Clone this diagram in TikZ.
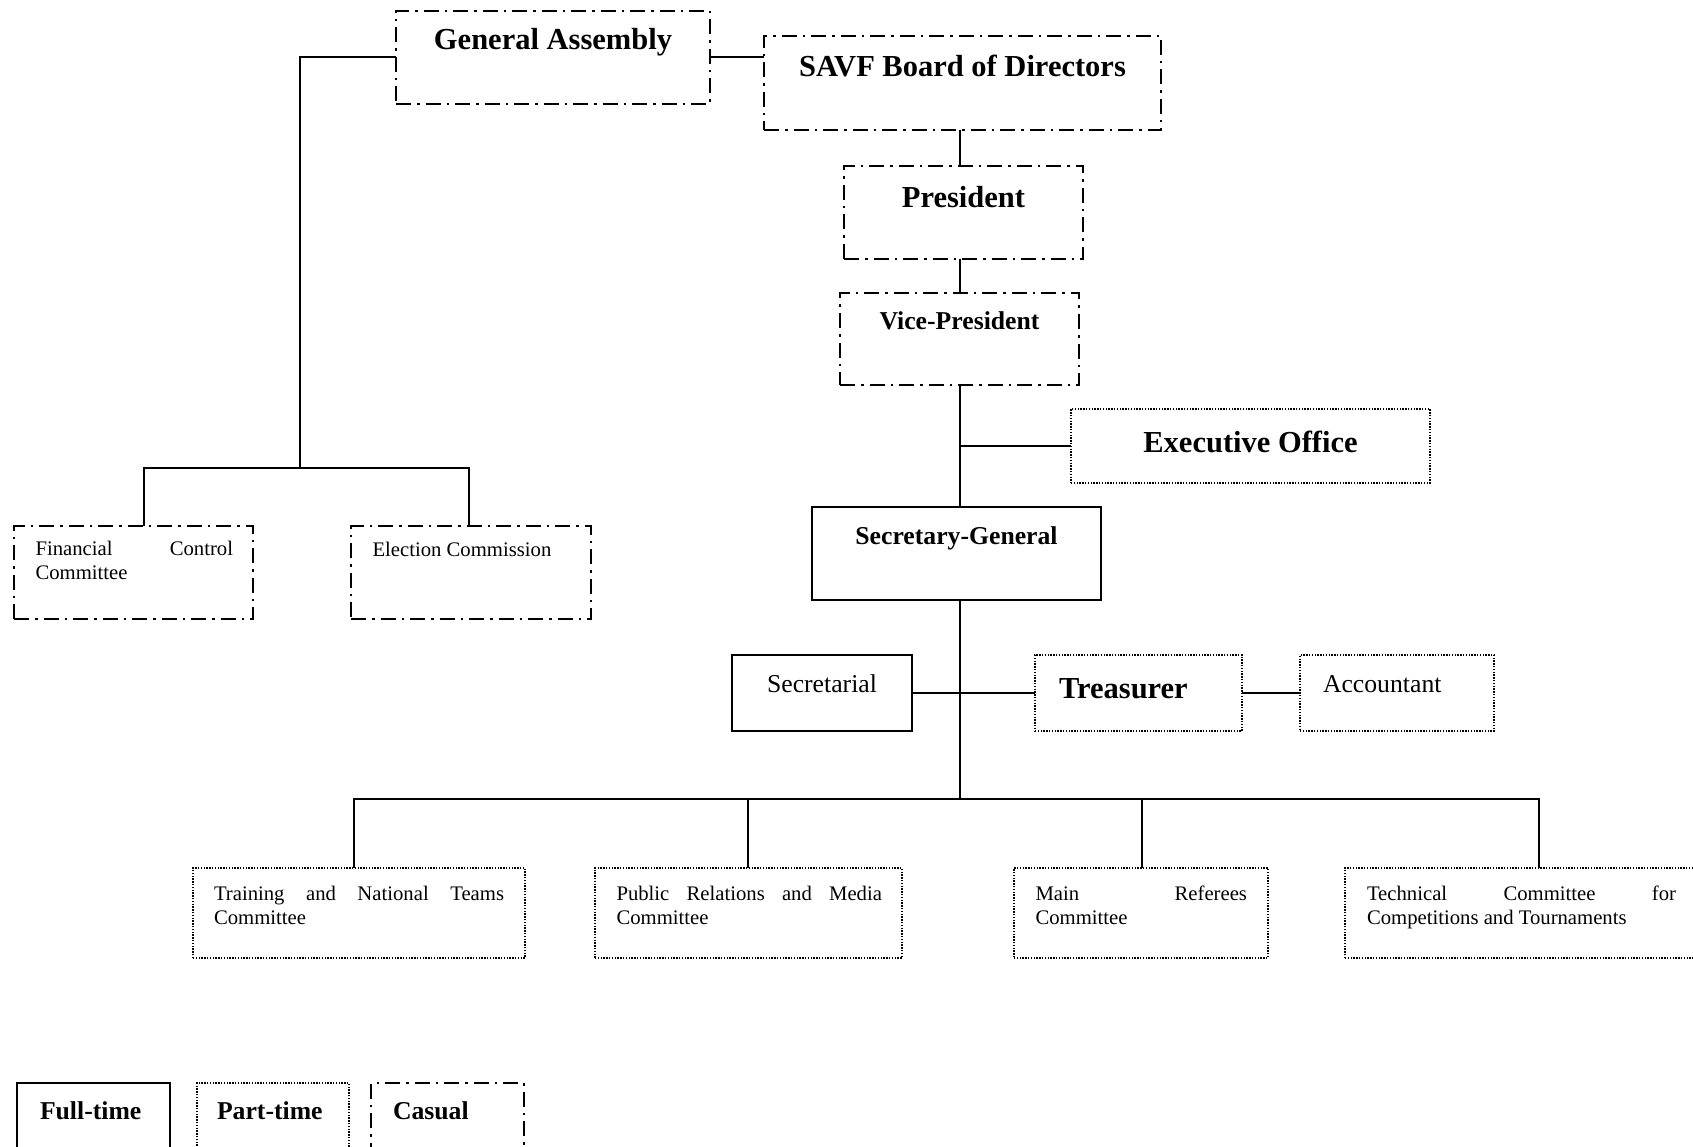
\documentclass[tikz,border=0pt]{standalone}
\usepackage{fontspec}
\setmainfont{Liberation Serif}
\usetikzlibrary{fit}
\begin{document}
\begin{tikzpicture}[x=1pt,y=-1pt,
  frame/.style={draw=black,inner sep=0pt,outer sep=0pt},
  fulltime/.style={frame,line width=1.9pt},
  parttime/.style={frame,line width=1.4pt,dash pattern=on 1.4pt off 1.4pt},
  casual/.style={frame,line width=1.6pt,dash pattern=on 15pt off 6pt on 2.5pt off 6pt},
  conn/.style={draw=black,line width=2pt},
  txt/.style={inner sep=0pt,outer sep=0pt,text=black},
  big/.style={txt,font=\fontsize{30.5}{35}\selectfont\bfseries},
  midb/.style={txt,font=\fontsize{25.7}{29.5}\selectfont\bfseries},
  mid/.style={txt,font=\fontsize{25.7}{29.5}\selectfont},
  small/.style={txt,font=\fontsize{20.7}{24}\selectfont}]
\useasboundingbox (0,0) rectangle (1693,1147);
\clip (0,0) rectangle (1693,1147);

% upper governance
\node[casual,fit={(396,11) (710,104)}] (ga) {};
\node[casual,fit={(764,36) (1161,130)}] (savf) {};
\node[casual,fit={(844,166) (1083,259)}] (pres) {};
\node[casual,fit={(840,293) (1079,385)}] (vp) {};
\node[parttime,fit={(1071,409) (1430,483)}] (exec) {};
\node[fulltime,fit={(812,507) (1101,600)}] (sg) {};

% left branch
\node[casual,fit={(14,526) (253,619)}] (fin) {};
\node[casual,fit={(351,526) (591,619)}] (elec) {};

% secretariat level
\node[fulltime,fit={(732,655) (912,731)}] (secr) {};
\node[parttime,fit={(1035,655) (1242,731)}] (treas) {};
\node[parttime,fit={(1300,655) (1494,731)}] (acct) {};

% committees
\node[parttime,fit={(193,868) (525,958)}] (train) {};
\node[parttime,fit={(595,868) (902,958)}] (pr) {};
\node[parttime,fit={(1014,868) (1268,958)}] (ref) {};
\node[parttime,fit={(1345,868) (1705,958)}] (tech) {};

% legend
\node[fulltime,fit={(17,1083) (170,1160)}] (lgfull) {};
\node[parttime,fit={(197,1083) (349,1160)}] (lgpart) {};
\node[casual,fit={(371,1083) (524,1160)}] (lgcas) {};

% labels
\node[big,anchor=base] (tga) at (553,50) {General Assembly};
\node[big,anchor=base] (tsavf) at (962.5,77) {SAVF Board of Directors};
\node[big,anchor=base] (tpres) at (963.5,208) {President};
\node[midb,anchor=base] (tvp) at (959.5,329.5) {Vice-President};
\node[big,anchor=base] (texec) at (1250.5,452) {Executive Office};
\node[midb,anchor=base] (tsg) at (956.5,544) {Secretary-General};
\node[mid,anchor=base] (tsecr) at (822,692) {Secretarial};
\node[big,anchor=base west] (ttreas) at (1059,698) {Treasurer};
\node[mid,anchor=base west] (tacct) at (1323,692) {Accountant};

\node[small,anchor=base west] (tfin) at (35.5,555)
  {\parbox[t]{197.5pt}{\raggedright Financial\hfill Control\\Committee}};
\node[small,anchor=base west] (telec) at (372.5,556) {Election Commission};

\node[small,anchor=base west] (ttrain) at (214,900)
  {\parbox[t]{290pt}{\raggedright Training\hfill and\hfill National\hfill Teams\\Committee}};
\node[small,anchor=base west] (tpr) at (616.5,900)
  {\parbox[t]{265.5pt}{\raggedright Public\hfill Relations\hfill and\hfill Media\\Committee}};
\node[small,anchor=base west] (tref) at (1035.5,900)
  {\parbox[t]{211.5pt}{\raggedright Main\hfill Referees\\Committee}};
\node[small,anchor=base west] (ttech) at (1367,900)
  {\parbox[t]{309pt}{\raggedright Technical\hfill Committee\hfill for\\Competitions and Tournaments}};

\node[midb,anchor=base west] (tlg1) at (40,1119) {Full-time};
\node[midb,anchor=base west] (tlg2) at (217,1119) {Part-time};
\node[midb,anchor=base west] (tlg3) at (393,1119) {Casual};

% connector routing points
\coordinate (trunk) at (960,0);
\coordinate (lftx) at (300,0);
\coordinate (lbus) at (0,468);
\coordinate (fdrop) at (144,0);
\coordinate (edrop) at (469,0);
\coordinate (bus) at (0,799);
\coordinate (d1) at (354,0);
\coordinate (d2) at (748,0);
\coordinate (d3) at (1142,0);
\coordinate (d4) at (1539,0);

% connectors
\draw[conn] (ga.east) -- (ga.east -| savf.west);
\draw[conn] (savf.south -| trunk) -- (pres.north -| trunk);
\draw[conn] (pres.south -| trunk) -- (vp.north -| trunk);
\draw[conn] (vp.south -| trunk) -- (sg.north -| trunk);
\draw[conn] (exec.west) -- (exec.west -| trunk);
\draw[conn] (ga.west) -- (ga.west -| lftx) -- (lftx |- lbus);
\draw[conn] (fin.north -| fdrop) -- (fdrop |- lbus) -- (edrop |- lbus) -- (elec.north -| edrop);
\draw[conn] (sg.south -| trunk) -- (trunk |- bus);
\draw[conn] (secr.east) -- (treas.west);
\draw[conn] (treas.east) -- (acct.west);
\draw[conn] (train.north -| d1) -- (d1 |- bus) -- (d4 |- bus) -- (tech.north -| d4);
\draw[conn] (pr.north -| d2) -- (d2 |- bus);
\draw[conn] (ref.north -| d3) -- (d3 |- bus);
\end{tikzpicture}
\end{document}
